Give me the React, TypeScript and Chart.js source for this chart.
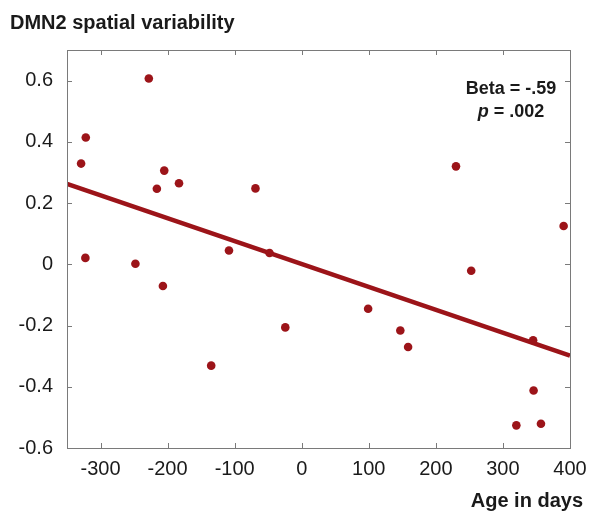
import React, { useEffect, useRef } from "react";
import { Chart, registerables } from "chart.js";

Chart.register(...registerables);

// ---- data ----
const ageDays = [
  -228, -322, -329, -205, -216, -183, -69, -108.5, -48, -322.6, -248, -207,
  -135, -24.5, 230, 390.5, 252.7, 99, 147, 158.6, 345, 345.7, 320, 356.7,
];
const dmn2Variability = [
  0.607, 0.414, 0.329, 0.306, 0.247, 0.265, 0.248, 0.045, 0.037, 0.021, 0.002, -0.071,
  -0.331, -0.206, 0.32, 0.125, -0.021, -0.145, -0.216, -0.27, -0.248, -0.412, -0.526, -0.521,
];
const fitAge = [-350, 400];
const fitValue = [0.263, -0.298];

const xTickValues = [-300, -200, -100, 0, 100, 200, 300, 400];
const yTickValues = [-0.6, -0.4, -0.2, 0, 0.2, 0.4, 0.6];

const chartTitle = "DMN2 spatial variability";
const xAxisTitle = "Age in days";
const statBetaText = "Beta = -.59";
const statPSymbol = "p";
const statPRest = " = .002";
const statPosition = { x: 312, yBeta: 0.573, yP: 0.497 };

const RED = "#9c1419";
const AXIS = "#7a7a7a";
const TEXT = "#1a1a1a";
const FONT = "'Liberation Sans', Arial, Helvetica, sans-serif";

const boxPlugin = {
  id: "matlabBox",
  afterDraw(chart: any) {
    const { ctx, chartArea: a, scales } = chart;
    const xs = scales.x;
    const ys = scales.y;
    const tl = 5;
    ctx.save();
    ctx.strokeStyle = AXIS;
    ctx.lineWidth = 1;
    ctx.strokeRect(Math.round(a.left) + 0.5, Math.round(a.top) + 0.5, Math.round(a.right - a.left), Math.round(a.bottom - a.top));
    ctx.beginPath();
    for (const v of xTickValues) {
      const px = Math.round(xs.getPixelForValue(v)) + 0.5;
      ctx.moveTo(px, a.bottom);
      ctx.lineTo(px, a.bottom - tl);
      ctx.moveTo(px, a.top);
      ctx.lineTo(px, a.top + tl);
    }
    for (const v of yTickValues) {
      const py = Math.round(ys.getPixelForValue(v)) + 0.5;
      ctx.moveTo(a.left, py);
      ctx.lineTo(a.left + tl, py);
      ctx.moveTo(a.right, py);
      ctx.lineTo(a.right - tl, py);
    }
    ctx.stroke();

    // titles
    ctx.fillStyle = TEXT;
    ctx.textBaseline = "middle";
    ctx.font = `bold 20px ${FONT}`;
    ctx.textAlign = "left";
    ctx.fillText(chartTitle, 10, 23);
    ctx.textAlign = "right";
    ctx.fillText(xAxisTitle, 583, 501);

    // stats annotation
    ctx.font = `bold 18px ${FONT}`;
    ctx.textAlign = "center";
    const cx = xs.getPixelForValue(statPosition.x);
    ctx.fillText(statBetaText, cx, ys.getPixelForValue(statPosition.yBeta));
    const py = ys.getPixelForValue(statPosition.yP);
    ctx.font = `italic bold 18px ${FONT}`;
    const w1 = ctx.measureText(statPSymbol).width;
    ctx.font = `bold 18px ${FONT}`;
    const w2 = ctx.measureText(statPRest).width;
    const start = cx - (w1 + w2) / 2;
    ctx.textAlign = "left";
    ctx.font = `italic bold 18px ${FONT}`;
    ctx.fillText(statPSymbol, start, py);
    ctx.font = `bold 18px ${FONT}`;
    ctx.fillText(statPRest, start + w1, py);
    ctx.restore();
  },
};

export default function App() {
  const ref = useRef<HTMLCanvasElement | null>(null);

  useEffect(() => {
    if (!ref.current) return;
    const points = ageDays.map((x, i) => ({ x, y: dmn2Variability[i] }));
    const fit = fitAge.map((x, i) => ({ x, y: fitValue[i] }));
    const chart = new Chart(ref.current, {
      type: "scatter",
      data: {
        datasets: [
          {
            type: "scatter",
            data: points,
            backgroundColor: RED,
            borderWidth: 0,
            pointRadius: 4.3,
          },
          {
            type: "line",
            data: fit,
            borderColor: RED,
            borderWidth: 4.5,
            pointRadius: 0,
            fill: false,
          },
        ],
      },
      options: {
        responsive: false,
        animation: false,
        layout: { padding: { top: 50, right: 19, left: 0, bottom: 0 } },
        plugins: { legend: { display: false }, tooltip: { enabled: false }, title: { display: false } },
        scales: {
          x: {
            type: "linear",
            min: -350,
            max: 400,
            grid: { display: false },
            border: { display: false },
            afterBuildTicks: (s: any) => {
              s.ticks = xTickValues.map((v) => ({ value: v }));
            },
            afterFit: (s: any) => {
              s.height = 64;
              s.paddingLeft = 0;
              s.paddingRight = 0;
            },
            ticks: {
              padding: 1,
              color: TEXT,
              font: { family: FONT, size: 20 },
              maxRotation: 0,
              callback: (v: any) => String(v),
            },
          },
          y: {
            type: "linear",
            min: -0.6,
            max: 0.7,
            grid: { display: false },
            border: { display: false },
            afterBuildTicks: (s: any) => {
              s.ticks = yTickValues.map((v) => ({ value: v }));
            },
            afterFit: (s: any) => {
              s.width = 67;
              s.paddingTop = 0;
              s.paddingBottom = 0;
            },
            ticks: {
              padding: 6,
              color: TEXT,
              font: { family: FONT, size: 20 },
              callback: (v: any) => (Math.abs(v) < 1e-9 ? "0" : String(Math.round(v * 10) / 10)),
            },
          },
        },
      },
      plugins: [boxPlugin],
    });
    return () => chart.destroy();
  }, []);

  return (
    <div style={{ position: "fixed", left: 0, top: 0, width: 589, height: 512, background: "#fff" }}>
      <canvas ref={ref} width={589} height={512} style={{ display: "block" }} />
    </div>
  );
}
